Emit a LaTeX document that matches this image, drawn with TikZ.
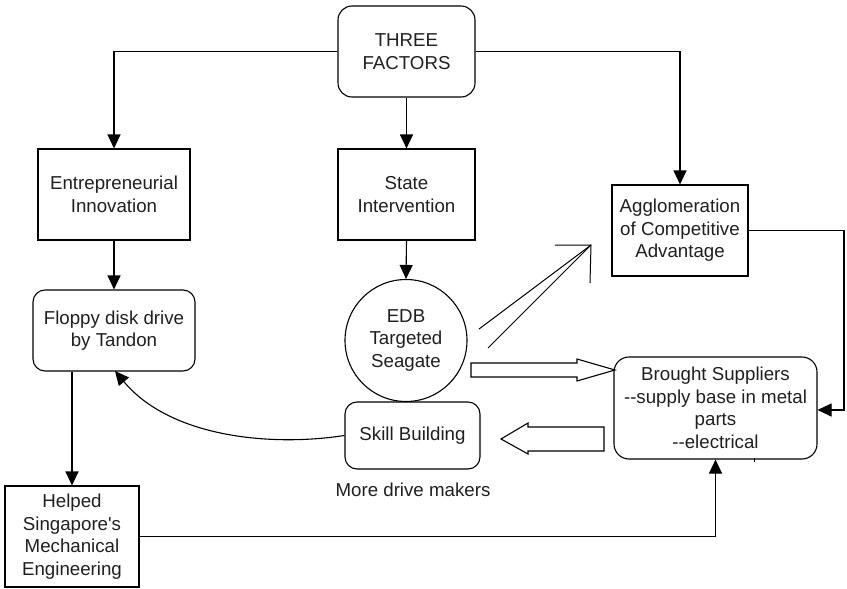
\documentclass[tikz,border=0pt]{standalone}
\usepackage{fontspec}
\setmainfont{Liberation Sans}[Ligatures=TeXOff]
\usetikzlibrary{arrows.meta,calc}
\begin{document}
\begin{tikzpicture}[x=1pt,y=-1pt,
  every node/.style={font=\fontsize{18.7}{22.5}\selectfont, align=center, inner sep=0pt, text=black!88},
  sqbox/.style={draw, line width=1.1pt, rectangle},
  rbox/.style={draw, line width=1.1pt, rectangle, rounded corners=12pt},
  conn/.style={line width=1.1pt},
  arr/.style={conn, -{Triangle[length=14pt,width=13pt]}},
  blockarrow/.style={line width=1.1pt, line join=miter},
  thinline/.style={line width=1pt}]
\useasboundingbox (0,0) rectangle (847,589);

\node[rbox, rounded corners=14pt, minimum width=137pt, minimum height=91pt] (tf) at (406.5,51.5) {THREE\\FACTORS};
\node[sqbox, minimum width=152pt, minimum height=91pt] (ei) at (114,194.5) {Entrepreneurial\\Innovation};
\node[sqbox, minimum width=137pt, minimum height=91pt] (si) at (406.5,194.5) {State\\Intervention};
\node[sqbox, minimum width=136pt, minimum height=91pt] (ag) at (680,230.5) {Agglomeration\\of Competitive\\Advantage};
\node[rbox, minimum width=162pt, minimum height=81pt] (fd) at (114,330.5) {Floppy disk drive\\by Tandon};
\node[draw, line width=1.1pt, circle, minimum size=122pt] (edb) at (406,340.5) {EDB\\Targeted\\Seagate};
\node[rbox, minimum width=135pt, minimum height=67pt] (sb) at (412.5,435.5) {Skill Building};
\node[rbox, rounded corners=15pt, minimum width=203pt, minimum height=102pt] (bs) at (715.5,408) {Brought Suppliers\\--supply base in metal\\parts\\--electrical};
\node[sqbox, minimum width=134pt, minimum height=101pt] (hs) at (72,536.5) {Helped\\Singapore's\\Mechanical\\Engineering};
\node (mdm) at (413,490) {More drive makers};

\coordinate (rc) at (844,410);
\coordinate (ft) at (115,371);

\draw[arr] (tf.west) -| (ei.north);
\draw[arr] (tf.east) -| (ag.north);
\draw[arr] (tf.south) -- (si.north);
\draw[arr] (ei.south) -- (fd.north);
\draw[arr] (si.south) -- (edb.north);
\draw[arr] (hs.north |- fd.south) -- (hs.north);
\draw[arr] (hs.east) -| (bs.south);
\draw[arr] (ag.east) -| (rc) -- (rc -| bs.east);
\draw[arr] (sb.west) .. controls (270,447) and (170,437) .. (ft);

% hollow block arrows
\draw[blockarrow] (471,363) -- (577,363) -- (577,359) -- (615,370) -- (577,381) -- (577,377) -- (471,377) -- cycle;
\draw[blockarrow] (604,427) -- (528,427) -- (528,423) -- (501,439) -- (528,454) -- (528,451) -- (604,451) -- cycle;

% double-line open arrow
\draw[thinline] (479,329) -- (591,245);
\draw[thinline] (488,348) -- (591,245);
\draw[thinline] (555,245) -- (591,245) -- (590,283);

% small tick under supplier box
\draw[thinline] (754,458) -- (754,462);
\end{tikzpicture}
\end{document}
